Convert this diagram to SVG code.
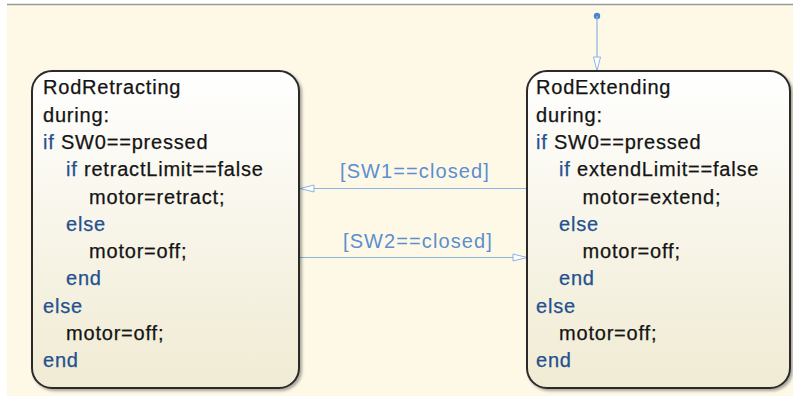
<svg xmlns="http://www.w3.org/2000/svg" width="793" height="396" viewBox="0 0 793 396">
  <defs>
    <linearGradient id="stateFill" x1="0" y1="0" x2="0" y2="1">
      <stop offset="0" stop-color="#ffffff"/>
      <stop offset="1" stop-color="#f0ebd3"/>
    </linearGradient>
    <filter id="shadow" x="-5%" y="-5%" width="115%" height="115%">
      <feGaussianBlur in="SourceAlpha" stdDeviation="1.5"/>
      <feOffset dx="1.5" dy="1.5" result="b"/>
      <feComponentTransfer><feFuncA type="linear" slope="0.35"/></feComponentTransfer>
      <feMerge><feMergeNode/><feMergeNode in="SourceGraphic"/></feMerge>
    </filter>
    <marker id="openArrow" markerWidth="16" markerHeight="9" refX="15" refY="4.5" orient="auto" markerUnits="userSpaceOnUse">
      <path d="M1,1 L15,4.5 L1,8 Z" fill="#ffffff" stroke="#8db3e2" stroke-width="1"/>
    </marker>
  </defs>
  <style>
    .state { fill: url(#stateFill); stroke: #2b2b2b; stroke-width: 2; filter: url(#shadow); }
    .code { font-family: "Liberation Sans", Arial, sans-serif; font-size: 20px; letter-spacing: 0.8px; fill: #141414; stroke: #141414; stroke-width: 0.25; }
    .kw { fill: #24508f; stroke: #24508f; }
    .trans { stroke: #8db3e2; stroke-width: 1.2; fill: none; }
    .label { font-family: "Liberation Sans", Arial, sans-serif; font-size: 20px; letter-spacing: 1.1px; fill: #5b8fd0; }
  </style>

  <!-- canvas -->
  <rect x="0" y="0" width="793" height="396" fill="#ffffff"/>
  <rect x="7" y="5" width="786" height="391" fill="#fef9e7"/>
  <line x1="7" y1="4.5" x2="793" y2="4.5" stroke="#9a9a9a" stroke-width="1.5"/>

  <!-- connectors -->
  <g id="connectors">
    <circle cx="597" cy="16" r="3.2" fill="#4a86d0"/>
    <line class="trans" x1="597" y1="16" x2="597" y2="71" marker-end="url(#openArrow)"/>
    <line class="trans" x1="527" y1="188.5" x2="300" y2="188.5" marker-end="url(#openArrow)"/>
    <text class="label" x="340" y="178">[SW1==closed]</text>
    <line class="trans" x1="300" y1="257.5" x2="527" y2="257.5" marker-end="url(#openArrow)"/>
    <text class="label" x="343" y="248">[SW2==closed]</text>
  </g>

  <!-- state RodRetracting -->
  <g id="RodRetracting">
    <rect class="state" x="32" y="71" width="267" height="317" rx="20" ry="20"/>
    <text class="code" x="43" y="94.3">RodRetracting</text>
    <text class="code" x="43" y="121.6">during:</text>
    <text class="code" x="43" y="148.9"><tspan class="kw">if</tspan> SW0==pressed</text>
    <text class="code" x="66" y="176.2"><tspan class="kw">if</tspan> retractLimit==false</text>
    <text class="code" x="89" y="203.5">motor=retract;</text>
    <text class="code kw" x="66" y="230.8">else</text>
    <text class="code" x="89" y="258.1">motor=off;</text>
    <text class="code kw" x="66" y="285.4">end</text>
    <text class="code kw" x="43" y="312.7">else</text>
    <text class="code" x="66" y="340">motor=off;</text>
    <text class="code kw" x="43" y="367.3">end</text>
  </g>

  <!-- state RodExtending -->
  <g id="RodExtending">
    <rect class="state" x="527" y="71" width="263" height="317" rx="20" ry="20"/>
    <text class="code" x="536" y="94.3">RodExtending</text>
    <text class="code" x="536" y="121.6">during:</text>
    <text class="code" x="536" y="148.9"><tspan class="kw">if</tspan> SW0==pressed</text>
    <text class="code" x="559" y="176.2"><tspan class="kw">if</tspan> extendLimit==false</text>
    <text class="code" x="582.5" y="203.5">motor=extend;</text>
    <text class="code kw" x="559" y="230.8">else</text>
    <text class="code" x="582.5" y="258.1">motor=off;</text>
    <text class="code kw" x="559" y="285.4">end</text>
    <text class="code kw" x="536" y="312.7">else</text>
    <text class="code" x="559" y="340">motor=off;</text>
    <text class="code kw" x="536" y="367.3">end</text>
  </g>
</svg>
